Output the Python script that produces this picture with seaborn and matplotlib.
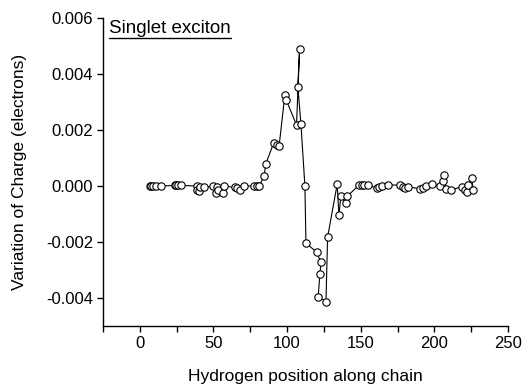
import matplotlib
matplotlib.use("Agg")
import matplotlib.pyplot as plt
import seaborn as sns
import pandas as pd
from matplotlib.ticker import MultipleLocator
from matplotlib.lines import Line2D

position = [6.8, 7.9, 9.0, 11.3, 14.7, 23.8, 24.9, 26.0, 28.3,
            38.5, 38.5, 40.3, 40.8, 43.7, 49.8, 51.6, 52.1, 53.2, 56.2, 57.1,
            64.5, 66.1, 67.9, 70.9, 77.7, 79.3, 81.0, 84.5, 85.4,
            91.0, 92.9, 94.6, 98.5, 99.4, 106.4, 108.5, 107.3, 109.4,
            112.1, 112.8, 120.0, 123.0, 122.3, 121.1, 126.4, 127.5,
            134.0, 135.2, 136.5, 140.0, 141.0, 149.0, 150.6, 152.2, 155.1,
            160.8, 162.6, 164.2, 168.7, 176.6, 178.5, 180.0, 182.3,
            190.2, 192.0, 194.3, 198.2, 203.8, 205.6, 206.5, 207.9, 211.1,
            218.5, 220.8, 221.9, 223.0, 225.3, 226.4]
charge = [0.0, 0.0, 0.0, 0.0, 0.0, 0.00002, 0.00002, 0.00002, 0.00002,
          0.0, -0.00014, -0.00018, -0.00003, -0.00005, 0.0, -0.00024, -0.00005, -0.00014, -0.00024, 0.0,
          -0.00005, -0.00008, -0.00014, 0.0, 0.0, 0.0, 0.0, 0.00037, 0.00077,
          0.00155, 0.00146, 0.00144, 0.00325, 0.00307, 0.00218, 0.0049, 0.00355, 0.00221,
          0.0, -0.00205, -0.00235, -0.00273, -0.00314, -0.00395, -0.00413, -0.00183,
          0.00006, -0.00104, -0.00036, -0.00062, -0.00036, 0.00004, 0.00004, 0.00004, 0.00004,
          -0.00008, -0.00003, 0.0, 0.00004, 0.00003, -0.00003, -0.00006, -0.00003,
          -0.0001, -0.00006, 0.00001, 0.00006, 0.00001, 0.00018, 0.00039, -0.0001, -0.00014,
          -0.00003, -0.00014, -0.0002, 0.00004, 0.00028, -0.00014]
xticks = [0, 50, 100, 150, 200, 250]
yticks = [-0.004, -0.002, 0.000, 0.002, 0.004, 0.006]
ytick_labels = ["-0.004", "-0.002", "0.000", "0.002", "0.004", "0.006"]

sns.set_theme(style="ticks")
plt.rcParams['font.family'] = ['Liberation Sans', 'DejaVu Sans']
plt.rcParams.update({"text.color": "black", "axes.labelcolor": "black",
                     "xtick.color": "black", "ytick.color": "black",
                     "axes.edgecolor": "black"})

df = pd.DataFrame({"x": position, "y": charge})

fig = plt.figure(figsize=(5.26, 3.88), dpi=100)
ax = fig.add_axes([0.1958, 0.1598, 0.77, 0.7938])

sns.lineplot(data=df, x="x", y="y", sort=False, estimator=None, ax=ax,
             color="black", linewidth=0.8, marker="o", markersize=5.3,
             markerfacecolor="white", markeredgecolor="black", markeredgewidth=0.8)

ax.set_xlim(-25, 250)
ax.set_ylim(-0.005, 0.006)
ax.set_xticks(xticks)
ax.xaxis.set_minor_locator(MultipleLocator(25))
ax.set_yticks(yticks)
ax.set_yticklabels(ytick_labels)
sns.despine(ax=ax)
for s in ["left", "bottom"]:
    ax.spines[s].set_linewidth(1.0)
    ax.spines[s].set_color("black")
ax.tick_params(axis="both", which="major", direction="out", length=4, width=1.0,
               labelsize=12, colors="black", pad=3)
ax.tick_params(axis="x", which="minor", direction="out", length=4, width=1.0)
ax.set_xlabel("Hydrogen position along chain", fontsize=12.5, labelpad=13)
ax.set_ylabel("Variation of Charge (electrons)", fontsize=12.5, labelpad=14)

t = ax.text(0.016, 0.952, "Singlet exciton", transform=ax.transAxes,
            fontsize=13.5, ha="left", va="baseline")
fig.canvas.draw()
bb = t.get_window_extent(renderer=fig.canvas.get_renderer())
inv = fig.transFigure.inverted()
(x0, y0), (x1, y1) = inv.transform([[bb.x0, bb.y0], [bb.x1, bb.y0]])
yl = y0 - 0.004
fig.add_artist(Line2D([x0, x1], [yl, yl], transform=fig.transFigure,
                      color="black", linewidth=1.0))

fig.savefig("out.png", dpi=100)
